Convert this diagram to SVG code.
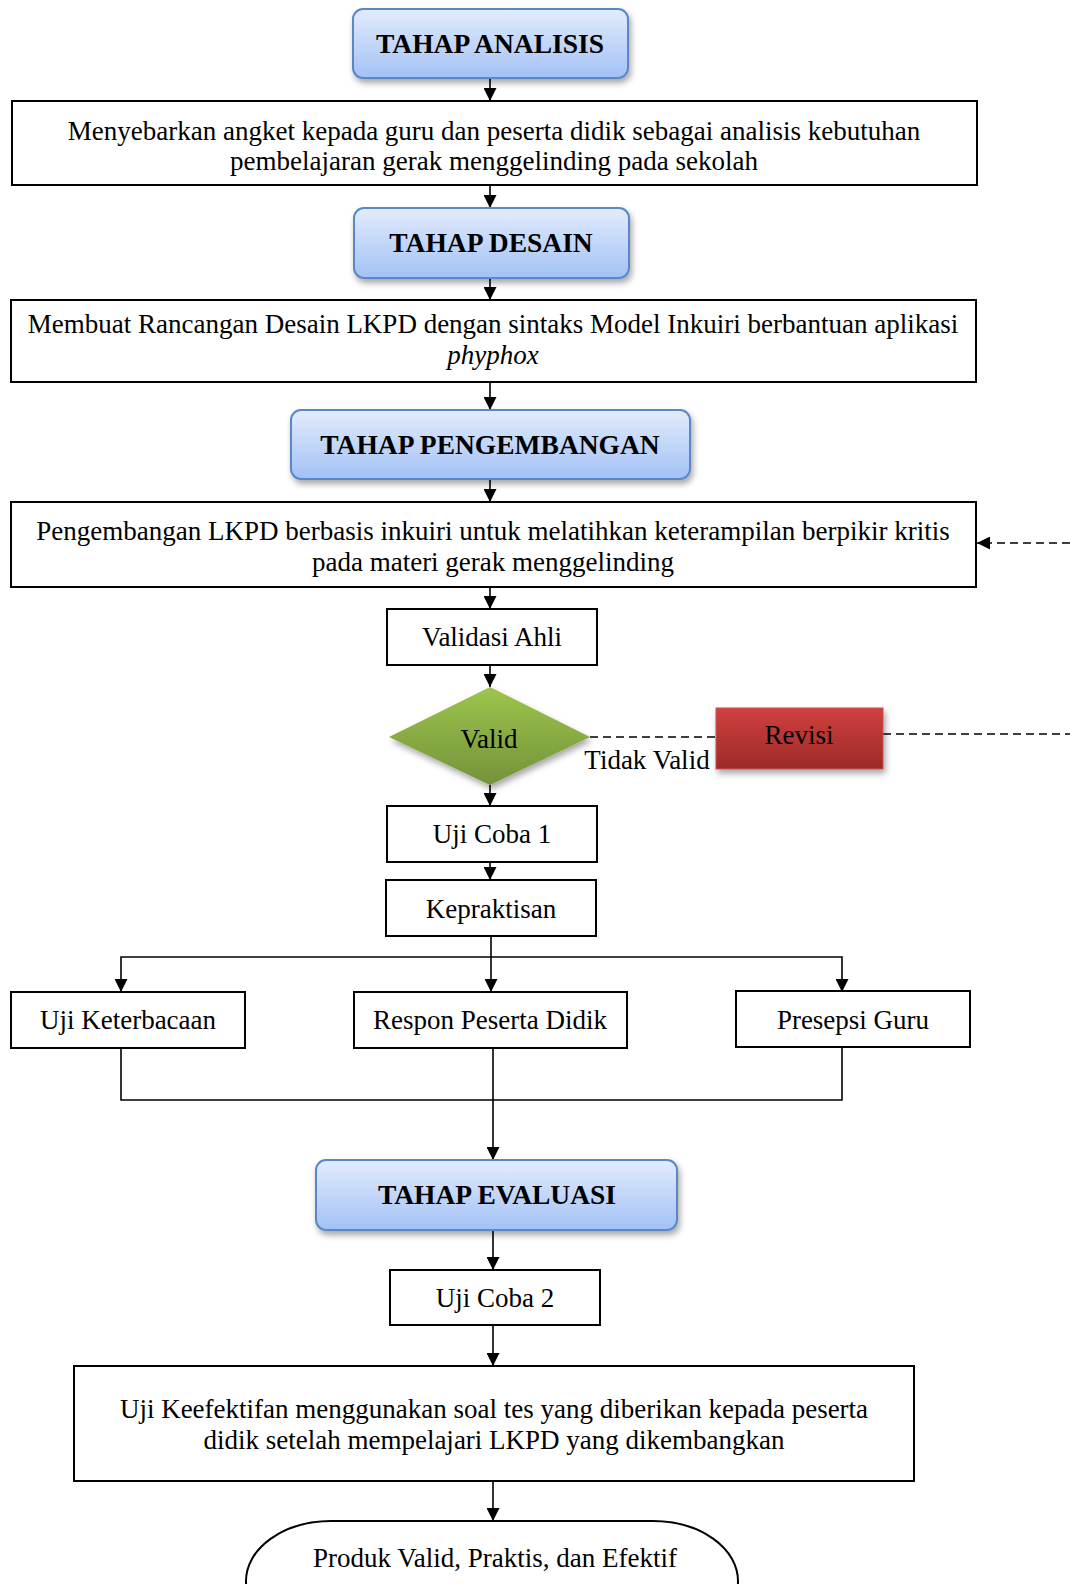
<svg xmlns="http://www.w3.org/2000/svg" width="1070" height="1584" viewBox="0 0 1070 1584">
<defs>
  <linearGradient id="gBlue" x1="0" y1="0" x2="0" y2="1">
    <stop offset="0" stop-color="#e2ecfc"/>
    <stop offset="1" stop-color="#a3c1f5"/>
  </linearGradient>
  <linearGradient id="gGreen" x1="0" y1="0" x2="0" y2="1">
    <stop offset="0" stop-color="#9dc54c"/>
    <stop offset="1" stop-color="#74923a"/>
  </linearGradient>
  <linearGradient id="gRed" x1="0" y1="0" x2="0" y2="1">
    <stop offset="0" stop-color="#d2403e"/>
    <stop offset="1" stop-color="#9c2a28"/>
  </linearGradient>
  <filter id="shadow" x="-10%" y="-20%" width="130%" height="160%">
    <feDropShadow dx="2" dy="4" stdDeviation="3" flood-color="#000" flood-opacity="0.35"/>
  </filter>
  <marker id="arr" viewBox="0 0 13 13" refX="13" refY="6.5" markerWidth="13" markerHeight="13" markerUnits="userSpaceOnUse" orient="auto">
    <path d="M0,0 L13,6.5 L0,13 z" fill="#000"/>
  </marker>
  <style>
    .phase { fill: url(#gBlue); stroke: #5a87c6; stroke-width: 2; filter: url(#shadow); }
    .box { fill: #fff; stroke: #000; stroke-width: 2; }
    .t { font-family: "Liberation Serif", "Times New Roman", serif; font-size: 27px; fill: #000; text-anchor: middle; }
    .tb { font-family: "Liberation Serif", "Times New Roman", serif; font-size: 27.5px; font-weight: bold; fill: #000; text-anchor: middle; }
    .ln { fill: none; stroke: #000; stroke-width: 1.6; }
    .arr { marker-end: url(#arr); }
    .dash { fill: none; stroke: #000; stroke-width: 1.6; stroke-dasharray: 8 5; }
  </style>
</defs>

<g id="connectors">
  <path class="ln arr" d="M490,78 V101"/>
  <path class="ln arr" d="M490,185 V208"/>
  <path class="ln arr" d="M490,278 V300"/>
  <path class="ln arr" d="M490,382 V410"/>
  <path class="ln arr" d="M490,479 V502"/>
  <path class="ln arr" d="M490,587 V609"/>
  <path class="ln arr" d="M490,665 V687"/>
  <path class="ln arr" d="M490,785 V806"/>
  <path class="ln arr" d="M490,862 V880"/>
  <path class="ln arr" d="M491,936 V992"/>
  <path class="ln arr" d="M491,957 H121 V992"/>
  <path class="ln arr" d="M491,957 H842 V992"/>
  <path class="ln" d="M121,1048 V1100 H842 V1048"/>
  <path class="ln arr" d="M493,1048 V1160"/>
  <path class="ln arr" d="M493,1230 V1270"/>
  <path class="ln arr" d="M493,1325 V1366"/>
  <path class="ln arr" d="M493,1481 V1521"/>
  <path class="dash" d="M590,737 H716"/>
  <path class="dash" d="M883,734 H1070"/>
  <path class="dash arr" d="M1070,543 H977"/>
  <text class="t" x="647" y="769">Tidak Valid</text>
</g>

<g id="tahap-analisis">
  <rect class="phase" x="353" y="9" width="275" height="69" rx="10"/>
  <text class="tb" x="490" y="53">TAHAP ANALISIS</text>
</g>
<g id="angket">
  <rect class="box" x="12" y="101" width="965" height="84"/>
  <text class="t" x="494" y="140">Menyebarkan angket kepada guru dan peserta didik sebagai analisis kebutuhan</text>
  <text class="t" x="494" y="170">pembelajaran gerak menggelinding pada sekolah</text>
</g>
<g id="tahap-desain">
  <rect class="phase" x="354" y="208" width="275" height="70" rx="10"/>
  <text class="tb" x="491" y="252">TAHAP DESAIN</text>
</g>
<g id="rancangan">
  <rect class="box" x="11" y="300" width="965" height="82"/>
  <text class="t" x="493" y="333">Membuat Rancangan Desain LKPD dengan sintaks Model Inkuiri berbantuan aplikasi</text>
  <text class="t" x="493" y="364" font-style="italic">phyphox</text>
</g>
<g id="tahap-pengembangan">
  <rect class="phase" x="291" y="410" width="399" height="69" rx="10"/>
  <text class="tb" x="490" y="454">TAHAP PENGEMBANGAN</text>
</g>
<g id="pengembangan">
  <rect class="box" x="11" y="502" width="965" height="85"/>
  <text class="t" x="493" y="540">Pengembangan LKPD berbasis inkuiri untuk melatihkan keterampilan berpikir kritis</text>
  <text class="t" x="493" y="571">pada materi gerak menggelinding</text>
</g>
<g id="validasi-ahli">
  <rect class="box" x="387" y="609" width="210" height="56"/>
  <text class="t" x="492" y="646">Validasi Ahli</text>
</g>
<g id="valid">
  <polygon points="389,737 490,687 590,737 490,785" fill="url(#gGreen)" filter="url(#shadow)"/>
  <text class="t" x="489" y="748">Valid</text>
</g>
<g id="revisi">
  <rect x="716" y="708" width="167" height="61" fill="url(#gRed)" stroke="#c9504e" stroke-width="1" filter="url(#shadow)"/>
  <text class="t" x="799" y="744">Revisi</text>
</g>
<g id="uji-coba-1">
  <rect class="box" x="387" y="806" width="210" height="56"/>
  <text class="t" x="492" y="843">Uji Coba 1</text>
</g>
<g id="kepraktisan">
  <rect class="box" x="386" y="880" width="210" height="56"/>
  <text class="t" x="491" y="918">Kepraktisan</text>
</g>
<g id="uji-keterbacaan">
  <rect class="box" x="11" y="992" width="234" height="56"/>
  <text class="t" x="128" y="1029">Uji Keterbacaan</text>
</g>
<g id="respon-peserta-didik">
  <rect class="box" x="354" y="992" width="273" height="56"/>
  <text class="t" x="490" y="1029">Respon Peserta Didik</text>
</g>
<g id="presepsi-guru">
  <rect class="box" x="736" y="991" width="234" height="56"/>
  <text class="t" x="853" y="1029">Presepsi Guru</text>
</g>
<g id="tahap-evaluasi">
  <rect class="phase" x="316" y="1160" width="361" height="70" rx="10"/>
  <text class="tb" x="497" y="1204">TAHAP EVALUASI</text>
</g>
<g id="uji-coba-2">
  <rect class="box" x="390" y="1270" width="210" height="55"/>
  <text class="t" x="495" y="1307">Uji Coba 2</text>
</g>
<g id="uji-keefektifan">
  <rect class="box" x="74" y="1366" width="840" height="115"/>
  <text class="t" x="494" y="1418">Uji Keefektifan menggunakan soal tes yang diberikan kepada peserta</text>
  <text class="t" x="494" y="1449">didik setelah mempelajari LKPD yang dikembangkan</text>
</g>
<g id="produk">
  <rect x="246" y="1521" width="492" height="120" rx="85" ry="60" fill="#fff" stroke="#000" stroke-width="2"/>
  <text class="t" x="495" y="1567">Produk Valid, Praktis, dan Efektif</text>
</g>
</svg>
